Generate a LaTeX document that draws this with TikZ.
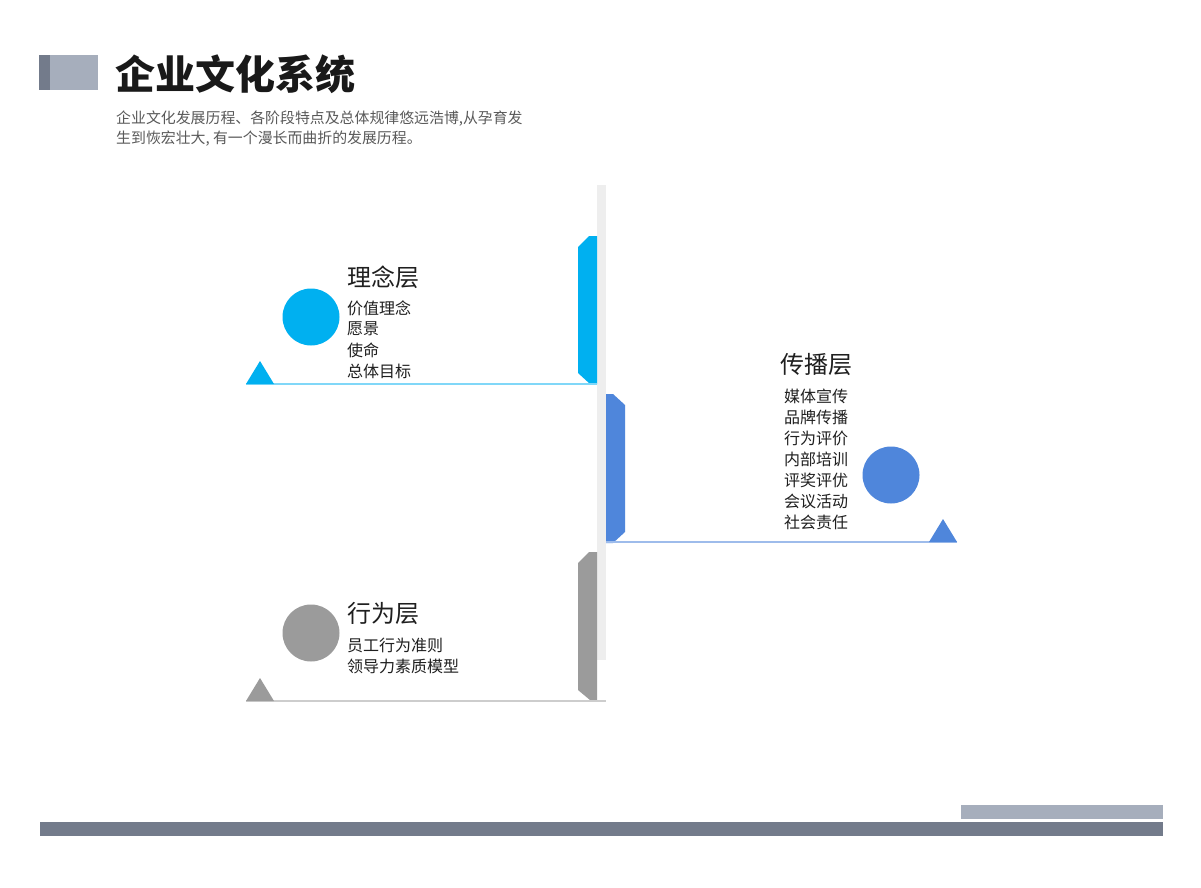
\documentclass[tikz,border=0pt]{standalone}
\usepackage{fontspec}
\newfontfamily\cjk{Noto Sans CJK SC}
\usepackage{tikz}
\usetikzlibrary{positioning}
\definecolor{slate}{HTML}{737B8B}
\definecolor{slatelight}{HTML}{A6AEBC}
\definecolor{cyanL}{HTML}{00B0F0}
\definecolor{blueL}{HTML}{4F86DB}
\definecolor{grayL}{HTML}{9B9B9B}
\definecolor{spine}{HTML}{EEEEEE}

\begin{document}
\begin{tikzpicture}[x=1pt,y=-1pt,
	head/.style={font=\cjk\fontsize{24}{28}\selectfont,text=black!88,inner sep=0pt},
	item/.style={font=\cjk\fontsize{16}{20}\selectfont,text=black!88,inner sep=0pt},
	dot/.style={circle,minimum size=57pt,inner sep=0pt}]
			\useasboundingbox[fill=white] (0,0) rectangle (1201,888);
			
			% header
			\fill[slate] (39,55) rectangle (50,90);
			\fill[slatelight] (50,55) rectangle (98,90);
			\node[anchor=west,inner sep=0pt,font=\cjk\bfseries\fontsize{40}{44}\selectfont,text=black!90] (title) at (115,74) {企业文化系统};
			\node[anchor=north west,inner sep=0pt,align=left,font=\cjk\fontsize{14.9}{20}\selectfont,text=black!65] (sub) at (116,111) {企业文化发展历程、各阶段特点及总体规律悠远浩博,从孕育发\\生到恢宏壮大, 有一个漫长而曲折的发展历程。};
			
			% spine and tabs
			\fill[spine] (597,185) rectangle (606,660);
			\fill[cyanL] (597,236) -- (589,236) -- (578,247) -- (578,373) -- (590,384) -- (597,384) -- cycle;
			\fill[blueL] (606,394) -- (613,394) -- (625,405) -- (625,532) -- (613,543) -- (606,543) -- cycle;
			\fill[grayL] (597,552) -- (589,552) -- (578,563) -- (578,690) -- (590,700) -- (597,700) -- cycle;
			
			% base lines
			\coordinate (l1a) at (246,384); \coordinate (l1b) at (597,384);
			\coordinate (l2a) at (606,542); \coordinate (l2b) at (957,542);
			\coordinate (l3a) at (246,701); \coordinate (l3b) at (606,701);
			\draw[cyanL!50,line width=2pt] (l1a) -- (l1b);
			\draw[blueL!55,line width=2pt] (l2a) -- (l2b);
			\draw[grayL!50,line width=2pt] (l3a) -- (l3b);
			\fill[cyanL] (l1a) -- ++(28,0) -- ++(-14,-23) -- cycle;
			\fill[blueL] (l2b) -- ++(-28,0) -- ++(14,-23) -- cycle;
			\fill[grayL] (l3a) -- ++(28,0) -- ++(-14,-23) -- cycle;
			
			% circles
			\node[dot,fill=cyanL] (c1) at (311,317) {};
			\node[dot,fill=blueL] (c2) at (891,475) {};
			\node[dot,fill=grayL] (c3) at (311,633) {};
			
			% texts
			\node[head,anchor=west] (h1) at (347,277) {理念层};
			\foreach \t [count=\n] in {价值理念,愿景,使命,总体目标}
			\node[item,anchor=west] (a\n) at (347,287+21*\n) {\t};
			
			\node[head] (h2) at (816,364) {传播层};
			\foreach \t [count=\n] in {媒体宣传,品牌传播,行为评价,内部培训,评奖评优,会议活动,社会责任}
			\node[item] (b\n) at (816,375+21*\n) {\t};
			
			\node[head,anchor=west] (h3) at (347,613) {行为层};
			\foreach \t [count=\n] in {员工行为准则,领导力素质模型}
			\node[item,anchor=west] (c\n) at (347,624+21*\n) {\t};
			
			% footer
			\fill[slatelight] (961,805) rectangle (1163,819);
			\fill[slate] (40,822) rectangle (1163,836);
		\end{tikzpicture}
\end{document}
